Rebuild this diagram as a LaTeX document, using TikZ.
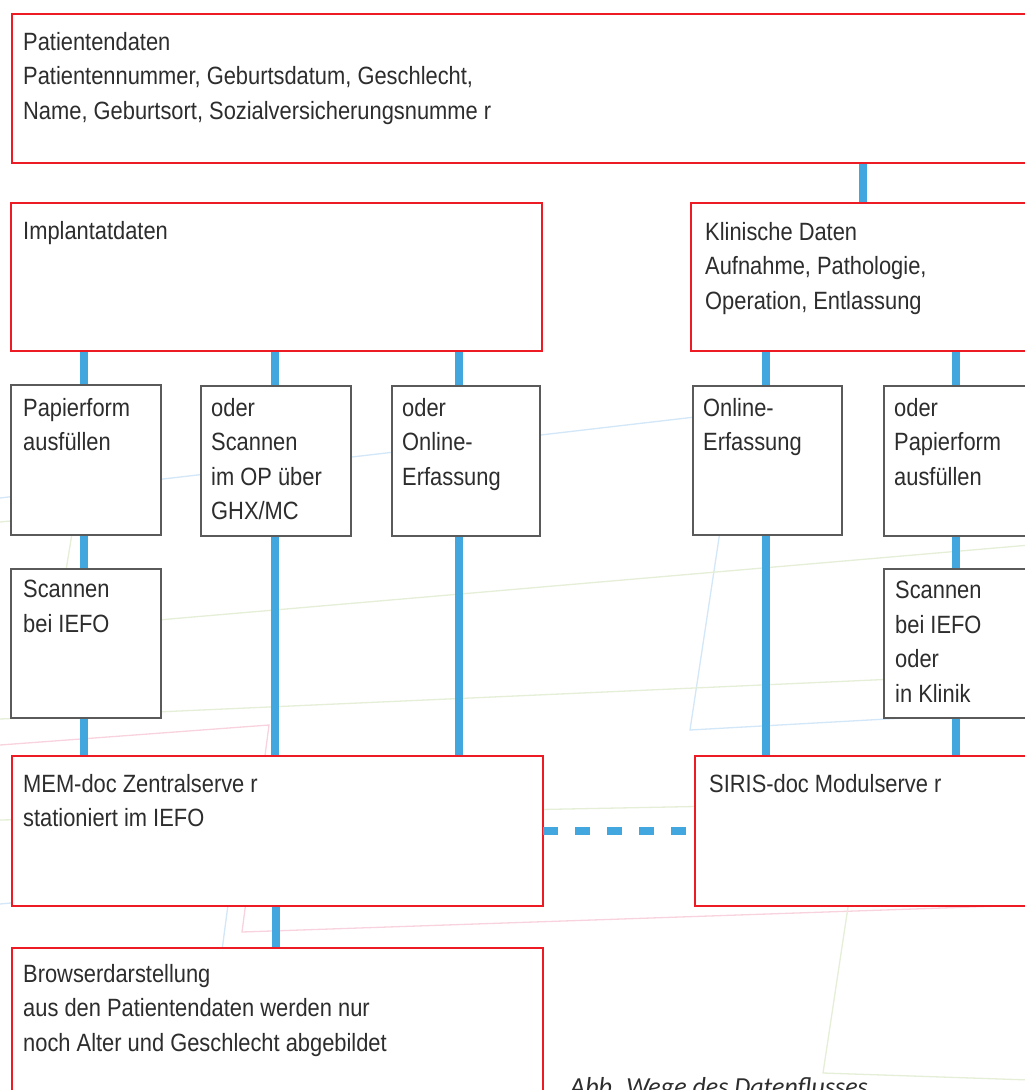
\documentclass[tikz,border=0pt]{standalone}
\usepackage{fontspec}
\setmainfont{Liberation Sans}[FakeStretch=0.875]
\newfontfamily\capfont{Carlito}
\usetikzlibrary{calc}
\pgfdeclarelayer{background}
\pgfsetlayers{background,main}
\definecolor{boxred}{RGB}{237,28,36}
\definecolor{boxgray}{RGB}{90,90,90}
\definecolor{linkblue}{RGB}{65,167,222}
\definecolor{txtgray}{RGB}{45,45,45}
\definecolor{bgblue}{RGB}{210,231,247}
\definecolor{bggreen}{RGB}{229,238,214}
\definecolor{bgpink}{RGB}{248,210,220}
\begin{document}
\begin{tikzpicture}[x=1pt,y=-1pt,
  redbox/.style={draw=boxred, line width=2pt, fill=white, rectangle, inner sep=0pt, outer sep=0pt, anchor=north west},
  graybox/.style={draw=boxgray, line width=2.5pt, fill=white, rectangle, inner sep=0pt, outer sep=0pt, anchor=north west, minimum width=150pt, minimum height=150pt},
  link/.style={draw=linkblue, line width=8pt},
  dashlink/.style={draw=linkblue, line width=8pt, dash pattern=on 15pt off 17pt},
  boxtext/.style={anchor=north west, inner sep=0pt, align=left, text=txtgray, font=\fontsize{25}{34.5}\selectfont},
  bgblueline/.style={draw=bgblue, line width=1.3pt},
  bggreenline/.style={draw=bggreen, line width=1.3pt},
  bgpinkline/.style={draw=bgpink, line width=1.3pt},
]
\useasboundingbox (0,0) rectangle (1025,1090);
\clip (0,0) rectangle (1025,1090);

% boxes
\node[redbox, minimum width=1029pt, minimum height=149pt] (pat) at (12,14) {};
\node[redbox, minimum width=531pt, minimum height=148pt] (impl) at (11,203) {};
\node[redbox, minimum width=350pt, minimum height=148pt] (klin) at (691,203) {};
\node[graybox] (papier) at (11,385) {};
\node[graybox] (scanop) at (201,386) {};
\node[graybox, minimum width=148pt] (online) at (392,386) {};
\node[graybox, minimum width=149pt, minimum height=149pt] (onlinek) at (693,386) {};
\node[graybox] (papierk) at (884,386) {};
\node[graybox, minimum height=149pt] (scaniefo) at (11,569) {};
\node[graybox, minimum height=149pt] (scanklinik) at (884,569) {};
\node[redbox, minimum width=531pt, minimum height=150pt] (mem) at (12,756) {};
\node[redbox, minimum width=346pt, minimum height=150pt] (siris) at (695,756) {};
\node[redbox, minimum width=531pt, minimum height=170pt] (browser) at (12,948) {};

% texts
\node[boxtext] (pat-t) at ($(pat.north west)+(11,18)$) {Patientendaten\\Patientennummer, Geburtsdatum, Geschlecht,\\Name, Geburtsort, Sozialversicherungsnumme r};
\node[boxtext] (impl-t) at ($(impl.north west)+(12,18)$) {Implantatdaten};
\node[boxtext] (klin-t) at ($(klin.north west)+(14,19)$) {Klinische Daten\\Aufnahme, Pathologie,\\Operation, Entlassung};
\node[boxtext] (papier-t) at ($(papier.north west)+(12,13)$) {Papierform\\ausfüllen};
\node[boxtext] (scanop-t) at ($(scanop.north west)+(10,12)$) {oder\\Scannen\\im OP über\\GHX/MC};
\node[boxtext] (online-t) at ($(online.north west)+(10,12)$) {oder\\Online-\\Erfassung};
\node[boxtext] (onlinek-t) at ($(onlinek.north west)+(10,12)$) {Online-\\Erfassung};
\node[boxtext] (papierk-t) at ($(papierk.north west)+(10,12)$) {oder\\Papierform\\ausfüllen};
\node[boxtext] (scaniefo-t) at ($(scaniefo.north west)+(12,11)$) {Scannen\\bei IEFO};
\node[boxtext] (scanklinik-t) at ($(scanklinik.north west)+(11,12)$) {Scannen\\bei IEFO\\oder\\in Klinik};
\node[boxtext] (mem-t) at ($(mem.north west)+(11,18)$) {MEM-doc Zentralserve r\\stationiert im IEFO};
\node[boxtext] (siris-t) at ($(siris.north west)+(14,18)$) {SIRIS-doc Modulserve r};
\node[boxtext] (browser-t) at ($(browser.north west)+(11,16)$) {Browserdarstellung\\aus den Patientendaten werden nur\\noch Alter und Geschlecht abgebildet};
\node[anchor=base west, inner sep=0pt, text=txtgray, font=\capfont\itshape\fontsize{26}{30}\selectfont] (caption) at (570,1095) {Abb. Wege des Datenflusses};

% column coordinates
\coordinate (c1) at ($(papier.north)+(-2,0)$);
\coordinate (c2) at ($(scanop.north)+(-1,0)$);
\coordinate (c3) at ($(online.north)+(-7,0)$);
\coordinate (c4) at ($(onlinek.north)+(-2,0)$);
\coordinate (c5) at ($(papierk.north)+(-3,0)$);
\coordinate (c6) at ($(klin.north)+(-3,0)$);
\coordinate (c7) at ($(mem.south)+(-2,0)$);

\begin{pgfonlayer}{background}
  % faint background outlines
  \draw[bgblueline] (0,498) -- (738,412) -- (690,730) -- (1030,711);
  \draw[bgblueline] (0,904) -- (231,882) -- (203,1095);
  \draw[bgpinkline] (0,745) -- (269,725) -- (242,932) -- (1030,905);
  \draw[bggreenline] (0,522) -- (75,515) -- (45,700);
  \draw[bggreenline] (100,625) -- (1030,545);
  \draw[bggreenline] (0,719) -- (1030,673);
  \draw[bggreenline] (0,820) -- (1030,800);
  \draw[bggreenline] (848,907) -- (823,1073) -- (1030,1080);
  % connectors
  \draw[link] (pat.south -| c6) -- (klin.north -| c6);
  \draw[link] (impl.south -| c1) -- (papier.north -| c1);
  \draw[link] (papier.south -| c1) -- (scaniefo.north -| c1);
  \draw[link] (scaniefo.south -| c1) -- (mem.north -| c1);
  \draw[link] (impl.south -| c2) -- (scanop.north -| c2);
  \draw[link] (scanop.south -| c2) -- (mem.north -| c2);
  \draw[link] (impl.south -| c3) -- (online.north -| c3);
  \draw[link] (online.south -| c3) -- (mem.north -| c3);
  \draw[link] (klin.south -| c4) -- (onlinek.north -| c4);
  \draw[link] (onlinek.south -| c4) -- (siris.north -| c4);
  \draw[link] (klin.south -| c5) -- (papierk.north -| c5);
  \draw[link] (papierk.south -| c5) -- (scanklinik.north -| c5);
  \draw[link] (scanklinik.south -| c5) -- (siris.north -| c5);
  \draw[link] (mem.south -| c7) -- (browser.north -| c7);
\end{pgfonlayer}
\draw[dashlink] (mem.east) -- (siris.west);
\end{tikzpicture}
\end{document}
